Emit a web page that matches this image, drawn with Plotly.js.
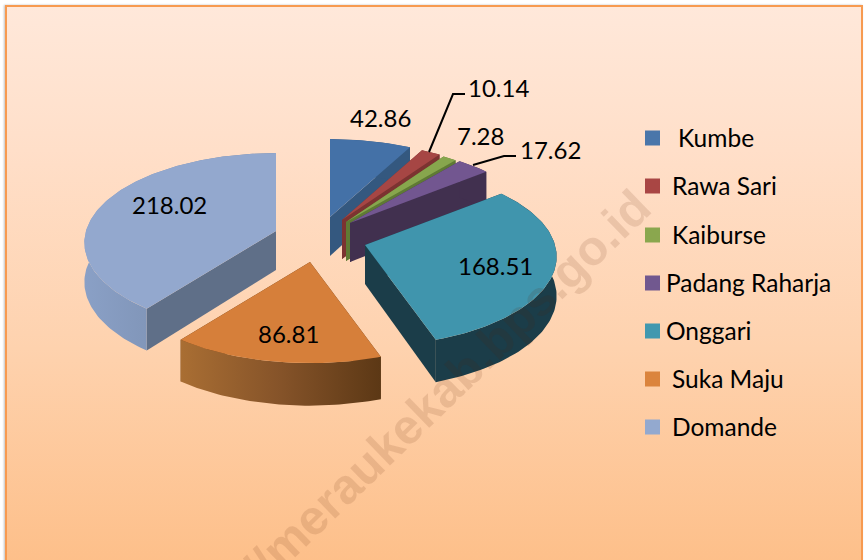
<!DOCTYPE html>
<html>
<head>
<meta charset="utf-8">
<script src="https://cdn.plot.ly/plotly-3.0.1.min.js"></script>
<style>
html,body{margin:0;padding:0;background:#fff;overflow:hidden;width:864px;height:560px}
#card{position:absolute;left:5px;top:5px;width:854px;height:570px;border:2px solid #f79a50;
background:linear-gradient(to bottom,#ffe8da 0%,#ffdfc9 25%,#fed2ae 60%,#fdbe87 100%);box-shadow:-1px 0 2px rgba(0,0,0,.25)}
#chart{position:absolute;left:0;top:0;width:864px;height:560px}
</style>
</head>
<body>
<div id="card"></div>
<div id="chart"></div>
<script>
// ---- data ----
const categories = ["Kumbe","Rawa Sari","Kaiburse","Padang Raharja","Onggari","Suka Maju","Domande"];
const values = [42.86,10.14,7.28,17.62,168.51,86.81,218.02];
const valueLabels = ["42.86","10.14","7.28","17.62","168.51","86.81","218.02"];

// ---- styles ----
const topColors  = ["#4471a7","#a64644","#87a64d","#725690","#4095ad","#d67f3a","#93a8ce"];
const wallColors = ["#34587f","#7c3331","#5f7a34","#41304f","#1b3d49","#603a18","#5f6f88"];
const legendColors = ["#4a76aa","#a94644","#8aa74e","#71588f","#4198af","#db843d","#93a9cf"];
const rimGradients = [null,null,null,null,null,
  [[0,"#a96e33"],[0.5,"#855329"],[1,"#5c3815"]],
  [[0,"#8aa0c6"],[1,"#6f82a0"]]];

// ---- exploded layout of the 3D pie ----
const apexX = [330,342,346,350,365,310,276];
const apexY = [217,220,222,223,245,262,231];
const RX = 190, RY = 88, PERSP = 0.13, DEPTH = 39;
const drawOrder = [0,1,2,3,6,5,4];

const labelX = [380,498,480,550,495,288,169];
const labelY = [117,87,135,149,265,333,204];
const legendY = [137,185,234,282,330,378,426];
const legendTextX = [678,672,672,666,666,672,672];
const legendSwatchX = 652.5;
const legendMarkerY = [138,186,235,283,331,379,427];

const total = values.reduce((a,b)=>a+b,0);
const starts = []; let acc = 0;
values.forEach(v=>{starts.push(acc/total*2*Math.PI); acc+=v;});

function rim(i,t,down){
  const s=Math.sin(t), c=Math.cos(t), w=1+PERSP*c;
  return [apexX[i]+RX*s/w, apexY[i]-RY*c/w+(down?DEPTH*(1-0.09*c):0)];
}
function apex(i,down){return [apexX[i],apexY[i]+(down?DEPTH:0)];}
function arc(i,a,b,down){
  const n=Math.max(4,Math.ceil((b-a)/0.02)),pts=[];
  for(let k=0;k<=n;k++) pts.push(rim(i,a+(b-a)*k/n,down));
  return pts;
}
function poly(name,pts,color,grad){
  const t={type:"scatter",mode:"lines",name:name,showlegend:false,hoverinfo:"skip",
    x:pts.map(p=>p[0]),y:pts.map(p=>p[1]),fill:"toself",fillcolor:color,line:{width:0,color:color}};
  if(grad) t.fillgradient={type:"horizontal",colorscale:grad};
  return t;
}
const traces=[];
drawOrder.forEach(i=>{
  const a=starts[i], b=a+values[i]/total*2*Math.PI;
  traces.push(poly(categories[i]+" wall",[apex(i,false),rim(i,a,false),rim(i,a,true),apex(i,true)],wallColors[i]));
  traces.push(poly(categories[i]+" wall",[apex(i,false),rim(i,b,false),rim(i,b,true),apex(i,true)],wallColors[i]));
  traces.push(poly(categories[i]+" rim",arc(i,a,b,false).concat(arc(i,a,b,true).reverse()),wallColors[i],rimGradients[i]));
  traces.push(poly(categories[i],[apex(i,false)].concat(arc(i,a,b,false)),topColors[i]));
});
traces.push({type:"scatter",mode:"markers",showlegend:false,hoverinfo:"skip",name:"legend",
  x:categories.map(()=>legendSwatchX),y:legendMarkerY,
  marker:{symbol:"square",size:15,color:legendColors,line:{width:0}}});

const FONT = "Lato, 'Noto Sans', sans-serif";
const annotations=[];
valueLabels.forEach((t,i)=>annotations.push({x:labelX[i],y:labelY[i],xref:"x",yref:"y",text:t,showarrow:false,
  xanchor:"center",yanchor:"middle",font:{family:FONT,size:24,color:"#000"}}));
categories.forEach((t,i)=>annotations.push({x:legendTextX[i],y:legendY[i],xref:"x",yref:"y",text:t,showarrow:false,
  xanchor:"left",yanchor:"middle",xshift:-2,font:{family:FONT,size:24.5,color:"#000"}}));
annotations.push({x:446,y:388,xref:"x",yref:"y",text:"//meraukekab.bps.go.id",showarrow:false,textangle:-44,
  xanchor:"center",yanchor:"middle",font:{family:"Liberation Sans, Arial, sans-serif",size:49,color:"rgba(90,30,0,0.12)",weight:700}});

const axis={range:[0,864],visible:false,fixedrange:true};
Plotly.newPlot("chart",traces,{
  width:864,height:560,margin:{l:0,r:0,t:0,b:0},
  paper_bgcolor:"rgba(0,0,0,0)",plot_bgcolor:"rgba(0,0,0,0)",showlegend:false,
  xaxis:axis,yaxis:{range:[560,0],visible:false,fixedrange:true},
  annotations:annotations,
  shapes:[
    {type:"path",path:"M465,94 L453,94 L429,152",line:{color:"#000",width:2}},
    {type:"path",path:"M516,156 L504,156 L473,165",line:{color:"#000",width:2}}
  ]
},{displayModeBar:false,staticPlot:true});
</script>
</body>
</html>
